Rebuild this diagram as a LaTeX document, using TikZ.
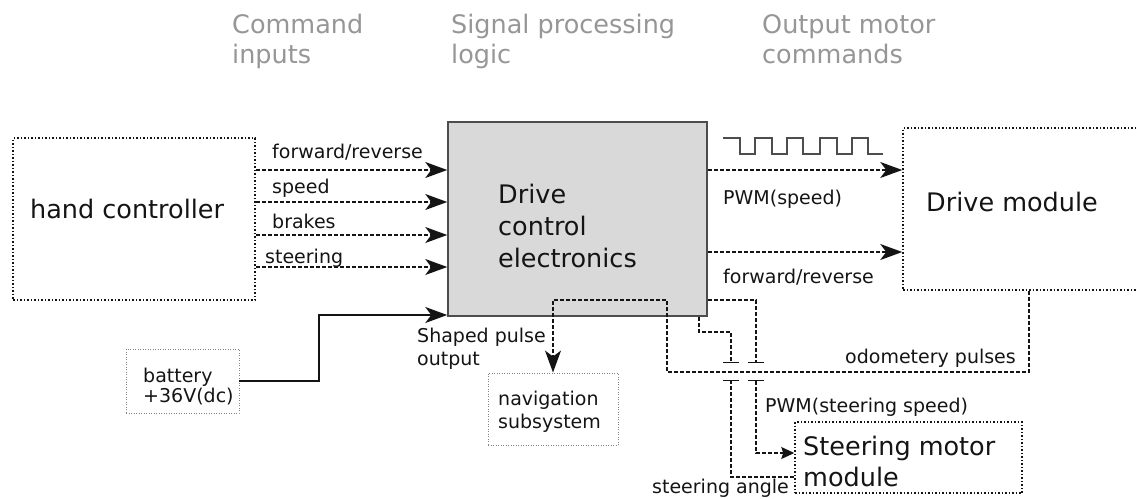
\documentclass[tikz,border=0pt]{standalone}
\usepackage{fontspec}
\setmainfont{DejaVu Sans}
\usetikzlibrary{arrows.meta}

\definecolor{ink}{RGB}{20,20,20}
\definecolor{hdrgray}{RGB}{150,150,150}
\definecolor{boxfill}{RGB}{217,217,217}
\definecolor{boxline}{RGB}{77,77,77}
\definecolor{faint}{RGB}{130,130,130}

\tikzset{
  big/.style={font=\fontsize{25.5}{30}\selectfont, anchor=base west, inner sep=0pt, text=ink},
  small/.style={font=\fontsize{19}{23}\selectfont, anchor=base west, inner sep=0pt, text=ink},
  hdr/.style={big, text=hdrgray},
  dotbox/.style={draw=ink, line width=1.5pt, dash pattern=on 1.5pt off 2pt, inner sep=0pt},
  faintbox/.style={draw=faint, line width=0.9pt, dash pattern=on 1pt off 1.5pt, inner sep=0pt},
  logicbox/.style={draw=boxline, fill=boxfill, line width=1.5pt, inner sep=0pt},
  sig/.style={draw=ink, line width=1.3pt, dash pattern=on 4pt off 2pt,
    -{Stealth[length=22pt, width=16pt, inset=6pt]}},
  wire/.style={draw=ink, line width=1.3pt, dash pattern=on 4pt off 2pt},
  pwr/.style={draw=ink, line width=2pt,
    -{Stealth[length=22pt, width=16pt, inset=6pt]}},
  hop/.style={-{Bar[width=16pt, line width=1.3pt]}},
}

\begin{document}
\begin{tikzpicture}[x=1pt, y=-1pt]
\useasboundingbox (0,0) rectangle (1137,498);

% column headings
\node[hdr] (h1a) at (232,33) {Command};
\node[hdr] (h1b) at (232,63) {inputs};
\node[hdr] (h2a) at (451,33) {Signal processing};
\node[hdr] (h2b) at (451,63) {logic};
\node[hdr] (h3a) at (762,33) {Output motor};
\node[hdr] (h3b) at (762,63) {commands};

% blocks
\node[dotbox, minimum width=242pt, minimum height=162pt] (hc) at (134,219) {};
\node[logicbox, minimum width=259pt, minimum height=194pt] (dce) at (577.5,219) {};
\node[dotbox, minimum width=242pt, minimum height=162pt] (dm) at (1024,209) {};
\node[faintbox, minimum width=130pt, minimum height=72pt] (nav) at (553,409) {};
\node[faintbox, minimum width=113pt, minimum height=64pt] (bat) at (182.5,381) {};
\node[dotbox, minimum width=227pt, minimum height=71pt] (smm) at (908.5,457.5) {};

% block captions
\node[big] (hct) at (30,218) {hand controller};
\node[big] (dct1) at (498,203) {Drive};
\node[big] (dct2) at (498,235) {control};
\node[big] (dct3) at (498,267) {electronics};
\node[big] (dmt) at (926,211) {Drive module};
\node[big] (smt1) at (803,455) {Steering motor};
\node[big] (smt2) at (803,486) {module};
\node[small] (navt1) at (498,405) {navigation};
\node[small] (navt2) at (498,428) {subsystem};
\node[small] (batt1) at (143,382) {battery};
\node[small] (batt2) at (143,402) {+36V(dc)};

% command inputs
\draw[sig] (hc.east |- 0,170) -- (dce.west |- 0,170);
\draw[sig] (hc.east |- 0,202) -- (dce.west |- 0,202);
\draw[sig] (hc.east |- 0,235) -- (dce.west |- 0,235);
\draw[sig] (hc.east |- 0,267) -- (dce.west |- 0,267);
\node[small] (l1) at (272,158) {forward/reverse};
\node[small] (l2) at (272,193) {speed};
\node[small] (l3) at (272,228) {brakes};
\node[small] (l4) at (265,263) {steering};

% supply
\draw[pwr] (bat.east) -- (319,381) -- (319,315) -- (dce.west |- 0,315);
\node[small] (sp1) at (417,342) {Shaped pulse};
\node[small] (sp2) at (417,365) {output};

% motor commands
\draw[sig] (dce.east |- 0,170) -- (dm.west |- 0,170);
\draw[sig] (dce.east |- 0,252) -- (dm.west |- 0,252);
\node[small] (o1) at (723,204) {PWM(speed)};
\node[small] (o2) at (723,283) {forward/reverse};

% pulse train
\draw[boxline, line width=1.6pt]
  (723,138) -- (740,138) -- (740,154) -- (755,154) -- (755,138)
  -- (772,138) -- (772,154) -- (787,154) -- (787,138)
  -- (803,138) -- (803,154) -- (820,154) -- (820,138)
  -- (837,138) -- (837,154) -- (852,154) -- (852,138)
  -- (868,138) -- (868,154) -- (883,154);

% odometry feedback to navigation
\draw[sig] (1029,0 |- dm.south) -- (1029,372) -- (667,372) -- (667,300)
  -- (553,300) -- (nav.north);
\node[small] (odo) at (845,363) {odometery pulses};

% steering angle (hops under the odometry line)
\draw[wire, hop] (dce.south -| 699,0) -- (699,332) -- (731,332) -- (731,363);
\draw[wire, hop] (smm.west |- 0,477) -- (731,477) -- (731,380);
\node[small] (sa) at (652,493) {steering angle};

% steering speed command
\draw[wire, hop] (dce.east |- 0,300) -- (756,300) -- (756,363);
\draw[wire, {Bar[width=16pt, line width=1.3pt]}-{Stealth[length=13pt, width=12pt, inset=2pt]}]
  (756,380) -- (756,453) -- (smm.west |- 0,453);
\node[small] (ss) at (765,412) {PWM(steering speed)};
\end{tikzpicture}
\end{document}
